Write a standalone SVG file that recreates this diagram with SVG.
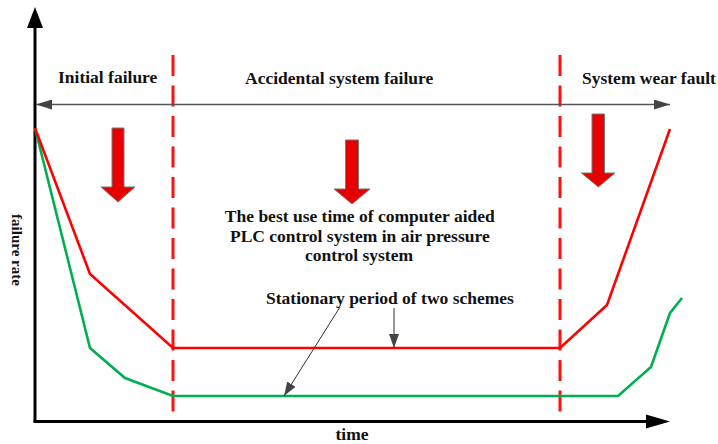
<svg xmlns="http://www.w3.org/2000/svg" width="718" height="444" viewBox="0 0 718 444">
  <style>
    .lbl { font-family: "Liberation Serif", "Times New Roman", serif; font-weight: bold; font-size: 17.5px; fill: #111; }
    .axis { stroke: #000; stroke-width: 3; fill: none; }
    .span { stroke: #555; stroke-width: 1.5; fill: none; }
    .divider { stroke: #ff1010; stroke-width: 3; stroke-dasharray: 21 9.5; fill: none; }
    .curve { fill: none; stroke-width: 2.6; stroke-linejoin: miter; }
    .red { stroke: #ff0000; }
    .green { stroke: #00b050; }
    .bigarrow { fill: #e80000; stroke: #777; stroke-width: 1; }
    .note { stroke: #333; stroke-width: 1; fill: none; }
  </style>
  <defs>
    <marker id="spanHead" viewBox="0 0 16 10" refX="16" refY="5" markerWidth="16" markerHeight="10" markerUnits="userSpaceOnUse" orient="auto-start-reverse">
      <path d="M0,0 L16,5 L0,10 Z" fill="#444"/>
    </marker>
    <marker id="noteTip" viewBox="0 0 14 10" refX="14" refY="5" markerWidth="14" markerHeight="10" markerUnits="userSpaceOnUse" orient="auto">
      <path d="M0,0 L14,5 L0,10 Z" fill="#444"/>
    </marker>
  </defs>

  <!-- axes -->
  <g id="axes">
    <line class="axis" x1="35" y1="422" x2="35" y2="26"/>
    <path d="M27,28 L35,7 L43,28 Z" fill="#000"/>
    <line class="axis" x1="33.5" y1="421.5" x2="648" y2="421.5"/>
    <path d="M646,414.5 L670,421.5 L646,428.5 Z" fill="#000"/>
    <text class="lbl" x="352" y="440" text-anchor="middle">time</text>
    <text class="lbl" style="font-size:15px" transform="translate(12,250) rotate(90)" text-anchor="middle">failure rate</text>
  </g>

  <!-- phase dividers and span arrow -->
  <g id="phases">
    <line class="divider" x1="173" y1="55" x2="173" y2="414"/>
    <line class="divider" x1="560" y1="55" x2="560" y2="414"/>
    <line class="span" x1="36" y1="104.5" x2="670" y2="104.5" marker-start="url(#spanHead)" marker-end="url(#spanHead)"/>
  </g>

  <g id="phase-initial">
    <text class="lbl" x="58" y="82.5">Initial failure</text>
    <path class="bigarrow" d="M112,128 L124,128 L124,187 L135,187 L118,202 L101,187 L112,187 Z"/>
  </g>
  <g id="phase-accidental">
    <text class="lbl" x="245" y="84">Accidental system failure</text>
    <path class="bigarrow" d="M345.5,140 L358.5,140 L358.5,189 L370,189 L352,204 L334,189 L345.5,189 Z"/>
    <text class="lbl" text-anchor="middle">
      <tspan x="362" y="221.5">The best use time of computer aided</tspan>
      <tspan x="362" y="241.5">PLC control system in air pressure</tspan>
      <tspan x="359" y="260.5">control system</tspan>
    </text>
  </g>
  <g id="phase-wear">
    <text class="lbl" x="582" y="84">System wear fault</text>
    <path class="bigarrow" d="M592,114 L604.5,114 L604.5,173 L615,173 L598.3,187 L581.5,173 L592,173 Z"/>
  </g>

  <!-- failure-rate curves -->
  <g id="curves">
    <polyline class="curve green" points="35,128 90,348 125,378 173,396 618,396 651,367 670,313 682,298"/>
    <polyline class="curve red" points="35,128 90,274 173,348 560,348 607,305 670,129"/>
  </g>

  <!-- stationary-period annotation -->
  <g id="stationary-note">
    <text class="lbl" x="266" y="304">Stationary period of two schemes</text>
    <line class="note" x1="340" y1="307" x2="284" y2="396" marker-end="url(#noteTip)"/>
    <line class="note" x1="394" y1="308" x2="394" y2="348" marker-end="url(#noteTip)"/>
  </g>
</svg>
